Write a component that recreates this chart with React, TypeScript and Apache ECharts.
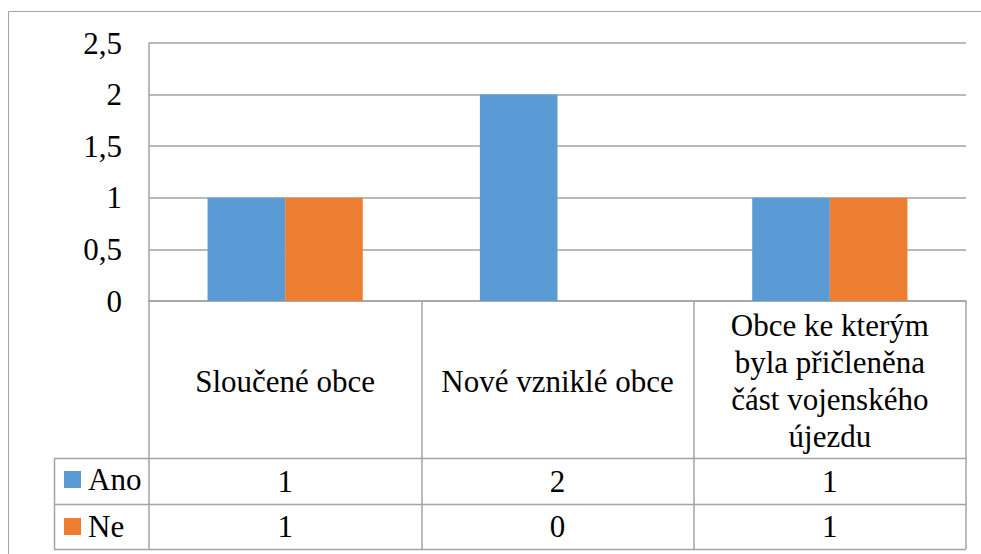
import React, { useEffect, useRef } from "react";
import * as echarts from "echarts";

const categories = [
  "Sloučené obce",
  "Nové vzniklé obce",
  "Obce ke kterým byla přičleněna část vojenského újezdu",
];
// how the category names wrap inside their table cells
const categoryLabels = [
  "Sloučené obce",
  "Nové vzniklé obce",
  "Obce ke kterým\nbyla přičleněna\nčást vojenského\nújezdu",
];
const seriesNames = ["Ano", "Ne"];
const anoValues = [1, 2, 1];
const neValues = [1, 0, 1];
const yTicks = [0, 0.5, 1, 1.5, 2, 2.5];

const W = 981;
const H = 554;
const FONT = "Liberation Serif";
const FS = 31;
const LINE = "#a3a3a3";
const COLORS = ["#5B9BD5", "#ED7D31"];

const gridLeft = 149;
const gridRight = 966;
const gridTop = 43;
const axisY = 301;
const row1 = 458;
const row2 = 504;
const row3 = 549;
const legendLeft = 54;

export default function App() {
  const ref = useRef<HTMLDivElement>(null);
  useEffect(() => {
    document.body.style.margin = "0";
    if (!ref.current) return;
    const chart = echarts.init(ref.current, undefined, { renderer: "svg" });
    const catW = (gridRight - gridLeft) / categories.length;
    const rows = [anoValues, neValues];
    const rowCenters = [(row1 + row2) / 2, (row2 + row3) / 2];
    const graphics: any[] = [
      {
        type: "rect",
        shape: { x: 8.5, y: 11.5, width: 1200, height: 800 },
        style: { fill: "none", stroke: LINE, lineWidth: 1 },
        silent: true,
      },
    ];
    [row1, row2, row3].forEach((y) => {
      graphics.push({
        type: "line",
        shape: { x1: legendLeft, y1: y + 0.5, x2: gridRight, y2: y + 0.5 },
        style: { stroke: LINE, lineWidth: 1.5 },
      });
    });
    graphics.push({
      type: "line",
      shape: { x1: legendLeft + 0.5, y1: row1, x2: legendLeft + 0.5, y2: row3 },
      style: { stroke: LINE, lineWidth: 1.5 },
    });
    rows.forEach((vals, r) => {
      vals.forEach((v, i) => {
        graphics.push({
          type: "text",
          x: gridLeft + (i + 0.5) * catW,
          y: rowCenters[r],
          style: {
            text: String(v).replace(".", ","),
            fontSize: FS,
            fontFamily: FONT,
            fill: "#000",
            align: "center",
            verticalAlign: "middle",
          },
        });
      });
    });

    chart.setOption({
      animation: false,
      backgroundColor: "#fff",
      color: COLORS,
      grid: {
        left: gridLeft,
        right: W - gridRight,
        top: gridTop,
        bottom: H - axisY,
        containLabel: false,
      },
      legend: {
        orient: "vertical",
        left: 59,
        top: row1 + 1,
        itemWidth: 17,
        itemHeight: 17,
        itemGap: 16,
        selectedMode: false,
        icon: "rect",
        data: seriesNames,
        textStyle: {
          fontSize: FS,
          fontFamily: FONT,
          color: "#000",
          padding: [0, 0, 0, 2],
        },
      },
      xAxis: {
        type: "category",
        data: categories,
        axisLine: { show: true, lineStyle: { color: LINE, width: 1.5 } },
        axisTick: {
          show: true,
          alignWithLabel: false,
          length: row3 - axisY,
          lineStyle: { color: LINE, width: 1.5 },
        },
        axisLabel: {
          interval: 0,
          margin: 80,
          fontSize: FS,
          fontFamily: FONT,
          color: "#000",
          lineHeight: 37,
          verticalAlign: "middle",
          align: "center",
          formatter: (v: string) => {
            const i = categories.indexOf(v);
            return i >= 0 ? categoryLabels[i] : v;
          },
        },
      },
      yAxis: {
        type: "value",
        min: 0,
        max: 2.5,
        interval: 0.5,
        axisLine: { show: true, lineStyle: { color: LINE, width: 1.5 } },
        axisTick: { show: false },
        splitLine: { show: true, lineStyle: { color: LINE, width: 1.5 } },
        axisLabel: {
          margin: 27,
          fontSize: FS,
          fontFamily: FONT,
          color: "#000",
          formatter: (v: number) =>
            yTicks.includes(v) ? String(v).replace(".", ",") : "",
        },
      },
      series: [
        {
          name: seriesNames[0],
          type: "bar",
          data: anoValues,
          barGap: "0%",
          barCategoryGap: "43%",
        },
        {
          name: seriesNames[1],
          type: "bar",
          data: neValues,
          barGap: "0%",
          barCategoryGap: "43%",
        },
      ],
      graphic: graphics,
    });
    return () => chart.dispose();
  }, []);
  return <div ref={ref} style={{ width: W, height: H }} />;
}
